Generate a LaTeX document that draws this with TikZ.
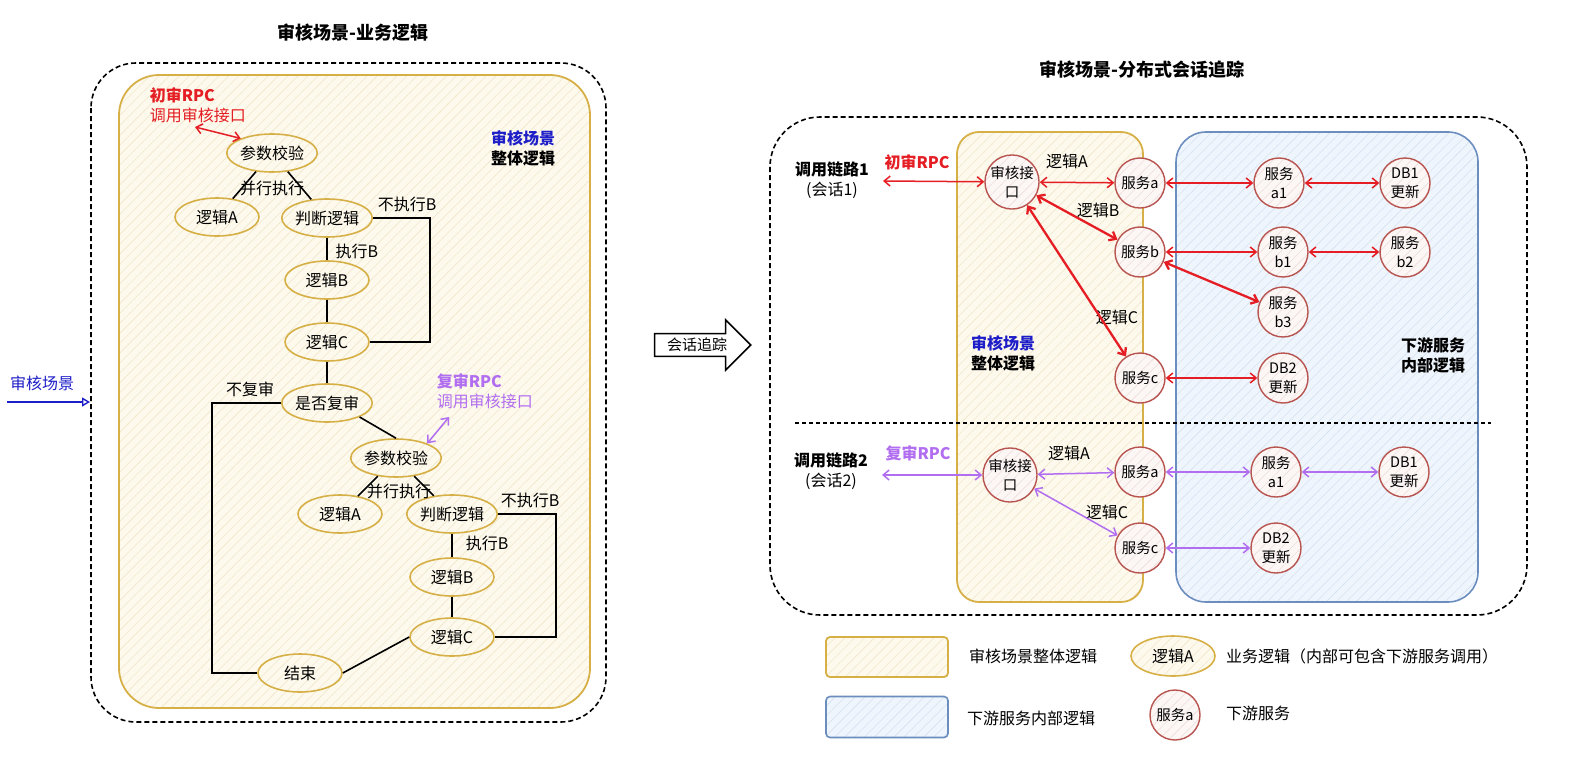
\documentclass[tikz,border=0pt]{standalone}
\usepackage{fontspec}
\setmainfont{Noto Sans CJK SC}
\usetikzlibrary{arrows.meta,shapes.geometric,shapes.arrows,patterns.meta}

\definecolor{goldline}{RGB}{214,176,70}
\definecolor{goldfill}{RGB}{253,249,236}
\definecolor{goldhatch}{RGB}{241,231,204}
\definecolor{blueline}{RGB}{108,142,191}
\definecolor{bluefill}{RGB}{239,245,252}
\definecolor{bluehatch}{RGB}{214,226,240}
\definecolor{svcline}{RGB}{184,84,80}
\definecolor{svcfill}{RGB}{252,246,245}
\definecolor{svchatch}{RGB}{236,222,220}
\definecolor{callred}{RGB}{228,30,36}
\definecolor{callpurple}{RGB}{178,110,240}
\definecolor{scenblue}{RGB}{30,30,200}

\begin{document}
\begin{tikzpicture}[x=1pt,y=-1pt,line width=1.6pt,
  >={Straight Barb[length=6pt,width=10pt]},
  txt/.style={font=\fontsize{16}{20}\selectfont,inner sep=1pt,align=center},
  title/.style={font=\fontsize{18}{22}\selectfont\bfseries,inner sep=1pt},
  logic node/.style={ellipse,draw=goldline,line width=1.6pt,preaction={fill=goldfill},
    pattern={Lines[angle=45,distance=7pt,line width=0.6pt]},pattern color=goldhatch,
    minimum width=84pt,minimum height=38pt,inner sep=0pt,font=\fontsize{16}{20}\selectfont},
  svc node/.style={circle,draw=svcline,line width=1.4pt,preaction={fill=svcfill},
    pattern={Lines[angle=45,distance=7pt,line width=0.6pt]},pattern color=svchatch,
    minimum size=50pt,inner sep=0pt,align=center,font=\fontsize{14.5}{19}\selectfont},
  call1/.style={<->,draw=callred,line width=1.5pt},
  call2/.style={<->,draw=callpurple,line width=1.5pt}]

\useasboundingbox (0,0) rectangle (1578,760);

% left: business logic
\node[title] (titleL) at (353,33) {审核场景-业务逻辑};
\draw[dash pattern=on 5pt off 3pt,line width=1.6pt,rounded corners=45pt] (91,63) rectangle (606,722);
\draw[draw=goldline,line width=1.8pt,rounded corners=40pt,preaction={fill=goldfill},
  pattern={Lines[angle=45,distance=7pt,line width=0.6pt]},pattern color=goldhatch] (119,75) rectangle (590,708);

\node[txt,text=scenblue] (sceneIn) at (42,383) {审核场景};
\coordinate (inL) at (7,402);
\coordinate (inR) at (90,402);
\draw[-{Triangle[open,length=8pt,width=9pt]},scenblue,line width=1.4pt] (inL) -- (inR);

\node[txt,anchor=north west,align=left,text=callred] (rpc1txt) at (148,86) {\textbf{初审RPC}\\调用审核接口};
\node[txt] (sceneL) at (523,148) {\textcolor{scenblue}{\textbf{审核场景}}\\\textbf{整体逻辑}};

\node[logic node] (cs1) at (272,153) {参数校验};
\node[logic node] (la1) at (217,217) {逻辑A};
\node[logic node] (pd1) at (327,218) {判断逻辑};
\node[logic node] (lb1) at (327,280) {逻辑B};
\node[logic node] (lc1) at (327,342) {逻辑C};
\node[logic node] (sf1) at (327,403) {是否复审};
\node[logic node] (cs2) at (396,458) {参数校验};
\node[logic node] (la2) at (340,514) {逻辑A};
\node[logic node] (pd2) at (452,514) {判断逻辑};
\node[logic node] (lb2) at (452,577) {逻辑B};
\node[logic node] (lc2) at (452,637) {逻辑C};
\node[logic node] (end1) at (300,673) {结束};

\node[txt] (par1) at (272,188) {并行执行};
\node[txt] (skip1) at (407,204) {不执行B};
\node[txt] (run1) at (357,251) {执行B};
\node[txt] (norev) at (250,389) {不复审};
\node[txt] (par2) at (399,491) {并行执行};
\node[txt] (skip2) at (530,500) {不执行B};
\node[txt] (run2) at (487,543) {执行B};
\node[txt,anchor=north west,align=left,text=callpurple] (rpc2txt) at (435,372) {\textbf{复审RPC}\\调用审核接口};

\coordinate (rpcA) at (195,127);
\coordinate (rpcB) at (449,417);

\path
(cs1) edge (la1)
(cs1) edge (pd1)
(pd1) edge (lb1)
(lb1) edge (lc1)
(lc1) edge (sf1)
(sf1.south east) edge (cs2.north)
(cs2) edge (la2)
(cs2) edge (pd2)
(pd2) edge (lb2)
(lb2) edge (lc2)
(lc2.west) edge (end1.east)
(rpcA) edge[call1] (cs1.155)
(rpcB) edge[call2] (cs2.25);

\draw (pd1.east) -- ++(57,0) |- (lc1.east);
\draw (sf1.west) -- ++(-69,0) |- (end1.west);
\draw (pd2.east) -- ++(58,0) |- (lc2.east);

% middle arrow
\node[single arrow,draw,line width=1.6pt,fill=white,minimum height=96pt,minimum width=50pt,
  single arrow head extend=13pt,inner xsep=3pt,inner ysep=3pt,font=\fontsize{15}{18}\selectfont] (trace) at (697,345) {会话追踪};

% right: distributed tracing
\node[title] (titleR) at (1142,70) {审核场景-分布式会话追踪};
\draw[dash pattern=on 5pt off 3pt,line width=1.6pt,rounded corners=50pt] (770,117) rectangle (1527,615);
\draw[draw=goldline,line width=1.8pt,rounded corners=22pt,preaction={fill=goldfill},
  pattern={Lines[angle=45,distance=7pt,line width=0.6pt]},pattern color=goldhatch] (957,132) rectangle (1143,602);
\draw[draw=blueline,line width=1.6pt,rounded corners=30pt,preaction={fill=bluefill},
  pattern={Lines[angle=45,distance=7pt,line width=0.6pt]},pattern color=bluehatch] (1176,132) rectangle (1478,602);
\draw[dash pattern=on 4pt off 3pt,line width=1.3pt] (795,423) -- (1491,423);

\node[txt,font=\fontsize{16}{20}\selectfont] (chain1) at (832,180) {\textbf{调用链路1}\\(会话1)};
\node[txt,text=callred] (rpc1) at (917,162) {\textbf{初审RPC}};
\node[txt] (sceneR) at (1003,353) {\textcolor{scenblue}{\textbf{审核场景}}\\\textbf{整体逻辑}};
\node[txt] (downR) at (1433,355) {\textbf{下游服务}\\\textbf{内部逻辑}};
\node[txt] (chain2) at (831,471) {\textbf{调用链路2}\\(会话2)};
\node[txt,text=callpurple] (rpc2) at (918,453) {\textbf{复审RPC}};

\node[txt] (ea1) at (1067,161) {逻辑A};
\node[txt] (eb1) at (1098,210) {逻辑B};
\node[txt] (ec1) at (1117,317) {逻辑C};
\node[txt] (ea2) at (1069,453) {逻辑A};
\node[txt] (ec2) at (1107,512) {逻辑C};

\node[svc node] (if1) at (1012,182) {审核接\\口};
\node[svc node] (sa1) at (1140,183) {服务a};
\node[svc node] (sb1) at (1140,252) {服务b};
\node[svc node] (sc1) at (1140,378) {服务c};
\node[svc node] (sa11) at (1279,183) {服务\\a1};
\node[svc node] (db11) at (1405,183) {DB1\\更新};
\node[svc node] (sb11) at (1283,252) {服务\\b1};
\node[svc node] (sb12) at (1405,252) {服务\\b2};
\node[svc node] (sb13) at (1283,312) {服务\\b3};
\node[svc node] (db12) at (1283,378) {DB2\\更新};
\coordinate (in1) at (883,181);

\node[svc node] (if2) at (1010,475) {审核接\\口};
\node[svc node] (sa2) at (1140,472) {服务a};
\node[svc node] (sc2) at (1140,548) {服务c};
\node[svc node] (sa21) at (1276,472) {服务\\a1};
\node[svc node] (db21) at (1404,472) {DB1\\更新};
\node[svc node] (db22) at (1276,548) {DB2\\更新};
\coordinate (in2) at (882,475);

\path
(in1) edge[call1] (if1)
(if1) edge[call1] (sa1)
(if1) edge[call1,line width=2.3pt] (sb1)
(if1) edge[call1,line width=2.3pt] (sc1)
(sa1) edge[call1] (sa11)
(sa11) edge[call1] (db11)
(sb1) edge[call1] (sb11)
(sb11) edge[call1] (sb12)
(sb1) edge[call1,line width=2.3pt] (sb13)
(sc1) edge[call1] (db12)
(in2) edge[call2] (if2)
(if2) edge[call2] (sa2)
(if2) edge[call2] (sc2)
(sa2) edge[call2] (sa21)
(sa21) edge[call2] (db21)
(sc2) edge[call2] (db22);

% legend
\node[draw=goldline,line width=1.8pt,rounded corners=4pt,preaction={fill=goldfill},
  pattern={Lines[angle=45,distance=7pt,line width=0.6pt]},pattern color=goldhatch,
  minimum width=122pt,minimum height=40pt] (keyScene) at (887,657) {};
\node[txt] (keySceneTxt) at (1033,656) {审核场景整体逻辑};
\node[logic node,minimum height=40pt] (keyLogic) at (1173,656) {逻辑A};
\node[txt] (keyLogicTxt) at (1362,656) {业务逻辑（内部可包含下游服务调用）};
\node[draw=blueline,line width=1.6pt,rounded corners=4pt,preaction={fill=bluefill},
  pattern={Lines[angle=45,distance=7pt,line width=0.6pt]},pattern color=bluehatch,
  minimum width=122pt,minimum height=41pt] (keyDown) at (887,717) {};
\node[txt] (keyDownTxt) at (1031,718) {下游服务内部逻辑};
\node[svc node] (keySvc) at (1175,715) {服务a};
\node[txt] (keySvcTxt) at (1258,713) {下游服务};

\end{tikzpicture}
\end{document}
